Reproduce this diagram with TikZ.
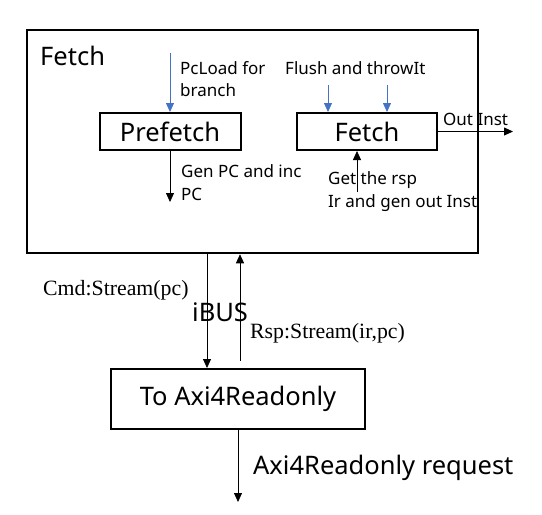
\documentclass[tikz,border=0pt]{standalone}
\usepackage{fontspec}
\setmainfont{Noto Sans}
\newfontfamily\serifface{Liberation Serif}
\usepackage{xcolor}
\usepackage{tikz}
\usetikzlibrary{arrows.meta, positioning}
\definecolor{sigblue}{HTML}{4472C4}

\begin{document}
\begin{tikzpicture}[x=1pt, y=-1pt,
    big/.style={font=\fontsize{25.5}{29}\selectfont},
    small/.style={font=\fontsize{17}{22.5}\selectfont, align=left, inner sep=0pt, anchor=base west},
    serif/.style={font=\serifface\fontsize{21.8}{24}\selectfont, inner sep=0pt, anchor=base west},
    block/.style={draw, line width=2pt, inner sep=0pt, big},
    sig/.style={-{Triangle[length=9pt, width=8pt]}, line width=0.8pt},
    ctl/.style={sig, sigblue}]
    \useasboundingbox (0,0) rectangle (542,515);
    \node[draw, line width=2.5pt, minimum width=451pt, minimum height=223pt] (fetchunit) at (252.5,141.5) {};
    \node[big, inner sep=0pt, anchor=base west] (unitname) at (40,65) {Fetch};
    \node[block, minimum width=141pt, minimum height=37pt] (prefetch) at (170,131.5) {Prefetch};
    \node[block, minimum width=140pt, minimum height=37pt] (fetchstage) at (367,131.5) {Fetch};
    \node[block, minimum width=254pt, minimum height=60pt] (toaxi) at (238,399) {To Axi4Readonly};

    \coordinate (pcload) at (170,53);
    \coordinate (genpc) at (170,202);
    \coordinate (outinst) at (513,131.5);
    \coordinate (getrsp) at (357,192);
    \coordinate (cmdtop) at (207,253);
    \coordinate (rspbot) at (240,361);
    \coordinate (axireq) at (238,502);

    \draw[ctl] (pcload) -- (prefetch.north);
    \foreach \fx/\fname in {328/flusha, 387/flushb} {
        \coordinate (\fname) at (\fx,85);
        \draw[ctl] (\fname) -- (\fname |- fetchstage.north);
    }
    \draw[sig] (prefetch.south) -- (genpc);
    \draw[sig] (fetchstage.east) -- (outinst);
    \draw[sig] (getrsp) -- (getrsp |- fetchstage.south);
    \draw[sig] (cmdtop) -- (cmdtop |- toaxi.north);
    \draw[sig] (rspbot) -- (rspbot |- fetchunit.south);
    \draw[sig] (toaxi.south) -- (axireq);

    \node[small] (pcloadtext) at (180,96.5) {PcLoad for\\branch};
    \node[small] (genpctext) at (181,200) {Gen PC and inc\\PC};
    \node[small] (flushtext) at (285,74) {Flush and throwIt};
    \node[small] (outtext) at (443,125) {Out Inst};
    \node[small] (rsptext) at (328,207) {Get the rsp\\Ir and gen out Inst};
    \node[serif] (cmdlabel) at (43,295) {Cmd:Stream(pc)};
    \node[big, inner sep=0pt, anchor=base west] (buslabel) at (192,321) {iBUS};
    \node[serif] (rsplabel) at (250,338) {Rsp:Stream(ir,pc)};
    \node[big, inner sep=0pt, anchor=base west] (reqlabel) at (253,474) {Axi4Readonly request};
\end{tikzpicture}
\end{document}
